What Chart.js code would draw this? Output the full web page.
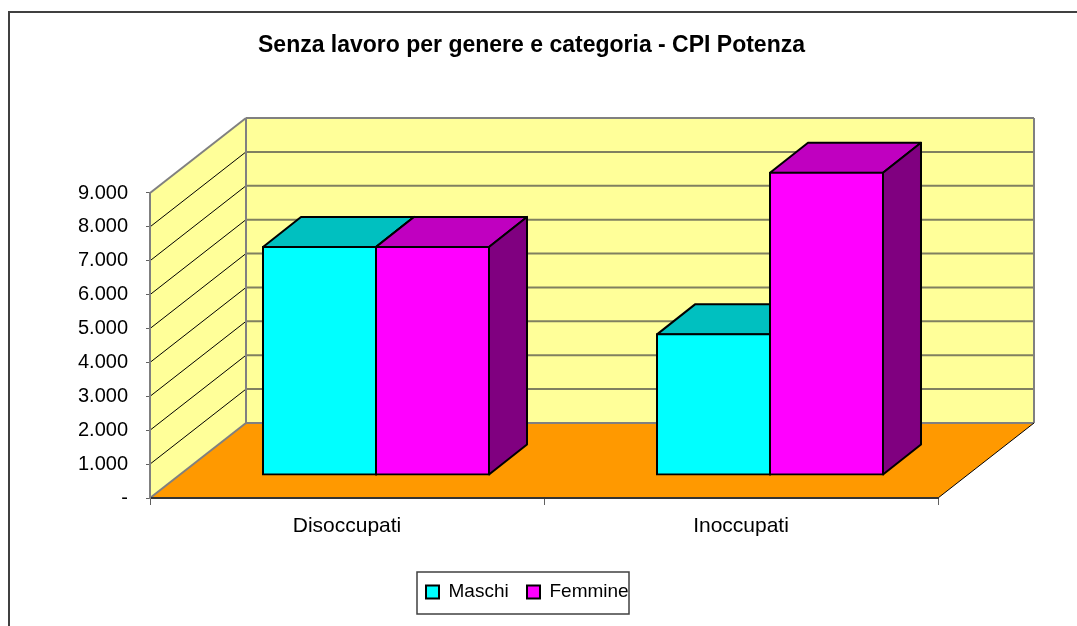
<!DOCTYPE html>
<html>
<head>
<meta charset="utf-8">
<title>Senza lavoro per genere e categoria - CPI Potenza</title>
<script src="https://cdn.jsdelivr.net/npm/chart.js@4"></script>
<style>
body { margin: 0; background: #fff; overflow: hidden; }
#frame { position: absolute; left: 8px; top: 11px; width: 1069px; height: 615px; border-left: 2px solid #404040; border-top: 2px solid #404040; box-sizing: border-box; }
#senzaLavoro { position: absolute; left: 0; top: 0; }
</style>
</head>
<body>
<div id="frame"></div>
<canvas id="senzaLavoro" width="1077" height="626"></canvas>
<script>
var categories = ["Disoccupati", "Inoccupati"];
var maschi = [6730, 4150];
var femmine = [6730, 8920];
var yTickLabels = ["-", "1.000", "2.000", "3.000", "4.000", "5.000", "6.000", "7.000", "8.000", "9.000"];

// the 3d look: how far the back wall sits from the axes, where the bars stand, how deep they are
var wallDx = 96, wallDy = 75;
var barDx = 29, barDy = 23;
var depthDx = 38, depthDy = 30;

var topColors = ["#00c0c0", "#c000c0"];
var sideColors = ["#008080", "#800080"];

function poly(ctx, pts, fill, stroke, width) {
    ctx.beginPath();
    pts.forEach(function(p, i) { i ? ctx.lineTo(p[0], p[1]) : ctx.moveTo(p[0], p[1]); });
    ctx.closePath();
    if (fill) { ctx.fillStyle = fill; ctx.fill(); }
    if (stroke) { ctx.strokeStyle = stroke; ctx.lineWidth = width; ctx.lineJoin = 'round'; ctx.stroke(); }
}

function line(ctx, x1, y1, x2, y2, color, width) {
    ctx.beginPath();
    ctx.moveTo(x1, y1);
    ctx.lineTo(x2, y2);
    ctx.strokeStyle = color;
    ctx.lineWidth = width;
    ctx.stroke();
}

var box3d = {
    id: 'box3d',
    afterLayout: function(chart) {
        // title and legend do not sit centred on the plot
        var t = chart.titleBlock, l = chart.legend;
        t.left = 258; t.right = 805;
        l.left = 426 - 18.3; l.right = 700; l.top = 564.2; l.bottom = 622;
    },
    beforeDraw: function(chart) {
        var ctx = chart.ctx, a = chart.chartArea, y = chart.scales.y;
        var left = a.left, right = a.right, bottom = a.bottom, top = a.top;
        ctx.save();
        // side wall, back wall, floor
        poly(ctx, [[left, bottom], [left + wallDx, bottom - wallDy], [left + wallDx, top - wallDy], [left, top]], "#ffff99");
        poly(ctx, [[left + wallDx, bottom - wallDy], [right + wallDx, bottom - wallDy], [right + wallDx, top - wallDy], [left + wallDx, top - wallDy]], "#ffff99");
        poly(ctx, [[left, bottom], [left + wallDx, bottom - wallDy], [right + wallDx, bottom - wallDy], [right, bottom]], "#ff9900");
        y.ticks.forEach(function(tick) {
            var py = y.getPixelForValue(tick.value);
            if (tick.value > 0 && tick.value < 9000) {
                line(ctx, left, py, left + wallDx, py - wallDy, "#000", 1);
                line(ctx, left + wallDx, py - wallDy, right + wallDx, py - wallDy, "#808060", 2);
            }
        });
        line(ctx, left, top, left + wallDx, top - wallDy, "#808080", 2);
        line(ctx, left + wallDx, top - wallDy, right + wallDx, top - wallDy, "#808080", 2);
        line(ctx, left + wallDx, top - wallDy, left + wallDx, bottom - wallDy, "#808080", 2);
        line(ctx, right + wallDx, top - wallDy, right + wallDx, bottom - wallDy, "#808080", 2);
        line(ctx, left + wallDx, bottom - wallDy, right + wallDx, bottom - wallDy, "#808080", 2);
        line(ctx, left, bottom, left + wallDx, bottom - wallDy, "#808080", 2);
        line(ctx, right, bottom, right + wallDx, bottom - wallDy, "#000", 1);
        // legend box
        ctx.strokeStyle = "#404040";
        ctx.lineWidth = 1.5;
        ctx.strokeRect(417, 572, 212, 42);
        ctx.restore();
    },
    beforeDatasetsDraw: function(chart) {
        // Maschi has to go down first so that Femmine covers its depth faces
        var ctx = chart.ctx;
        ctx.save();
        ctx.translate(barDx, -barDy);
        chart.data.datasets.forEach(function(ds, index) {
            var meta = chart.getDatasetMeta(index);
            meta.data.forEach(function(bar) {
                var p = bar.getProps(['x', 'y', 'base', 'width']);
                var l = p.x - p.width / 2, r = p.x + p.width / 2;
                poly(ctx, [[l, p.y], [l + depthDx, p.y - depthDy], [r + depthDx, p.y - depthDy], [r, p.y]], topColors[index], "#000", 2);
                poly(ctx, [[r, p.y], [r + depthDx, p.y - depthDy], [r + depthDx, p.base - depthDy], [r, p.base]], sideColors[index], "#000", 2);
            });
            meta.controller.draw();
        });
        ctx.restore();
        return false;
    }
};

new Chart(document.getElementById("senzaLavoro"), {
    type: 'bar',
    data: {
        labels: categories,
        datasets: [{
            label: "Maschi",
            data: maschi,
            backgroundColor: "#00ffff",
            borderColor: "#000",
            borderWidth: 2,
            borderSkipped: false,
            inflateAmount: 1
        }, {
            label: "Femmine",
            data: femmine,
            backgroundColor: "#ff00ff",
            borderColor: "#000",
            borderWidth: 2,
            borderSkipped: false,
            inflateAmount: 1
        }]
    },
    options: {
        responsive: false,
        animation: false,
        layout: { autoPadding: false, padding: { left: 0, right: 139, top: 0, bottom: 0 } },
        datasets: { bar: { categoryPercentage: 0.5736, barPercentage: 1 } },
        color: "#000",
        plugins: {
            title: {
                display: true,
                text: "Senza lavoro per genere e categoria - CPI Potenza",
                color: "#000",
                font: { family: "'Liberation Sans'", size: 23, weight: 'bold', lineHeight: 1.2 },
                padding: { top: 32.2, bottom: 133.2 }
            },
            legend: {
                position: 'bottom',
                align: 'start',
                labels: {
                    color: "#000",
                    font: { family: "'Liberation Sans'", size: 19 },
                    usePointStyle: true,
                    pointStyle: 'rect',
                    pointStyleWidth: 13,
                    boxHeight: 13,
                    padding: 18.3
                }
            },
            tooltip: { enabled: false }
        },
        scales: {
            x: {
                afterFit: function(s) { s.height = 128 - s.chart.legend.height; },
                grid: { offset: true, drawOnChartArea: false, tickLength: 7, tickColor: "#606060" },
                border: { color: "#333", width: 2 },
                ticks: { color: "#000", padding: 9, maxRotation: 0, font: { family: "'Liberation Sans'", size: 21 } }
            },
            y: {
                min: 0,
                max: 9000,
                afterFit: function(s) { s.width = 150; },
                grid: { drawOnChartArea: false, tickLength: 4, tickColor: "#606060" },
                border: { color: "#808080", width: 2 },
                ticks: {
                    stepSize: 1000,
                    color: "#000",
                    padding: 18,
                    font: { family: "'Liberation Sans'", size: 20 },
                    callback: function(v, i) { return yTickLabels[i]; }
                }
            }
        }
    },
    plugins: [box3d]
});
</script>
</body>
</html>
